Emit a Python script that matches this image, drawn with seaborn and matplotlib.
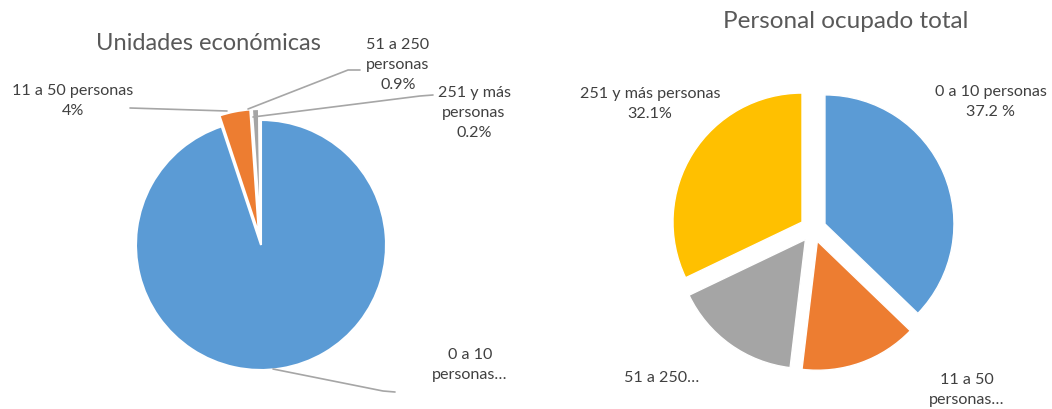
import matplotlib
matplotlib.use("Agg")
import matplotlib.pyplot as plt
import seaborn as sns

sns.set_style("white")
plt.rcParams["font.family"] = ["Lato", "DejaVu Sans"]

# Data
categorias = ["0 a 10 personas", "11 a 50 personas", "51 a 250 personas", "251 y más personas"]
unidades_pct = [94.9, 4.0, 0.9, 0.2]
personal_pct = [37.2, 14.7, 16.0, 32.1]
colores = ["#5B9BD5", "#ED7D31", "#A5A5A5", "#FFC000"]

W, H = 1052, 409
TXT = "#404040"
LINE = "#A6A6A6"

fig = plt.figure(figsize=(W / 100, H / 100), dpi=100)
ax = fig.add_axes([0, 0, 1, 1])

def py(y):
    # pixel row (from top) -> axis y
    return H - y

# ---- Left pie: Unidades económicas
ax.pie(unidades_pct, colors=colores, startangle=90, counterclock=False,
       center=(261, py(245)), radius=125, explode=[0, 11, 11, 11],
       wedgeprops=dict(edgecolor="white", linewidth=1.5))
ax.text(208, py(44), "Unidades económicas", ha="center", va="center",
        fontsize=17, color="#595959")

lab_kw = dict(ha="center", va="center", fontsize=11.6, color=TXT, linespacing=1.55)
ax.text(73, py(101), f"{categorias[1]}\n{unidades_pct[1]:.0f}%", **lab_kw)
ax.plot([130, 227], [py(108), py(111)], color=LINE, lw=1.2)

ax.text(398, py(65), "51 a 250\npersonas\n" + f"{unidades_pct[2]}%", **lab_kw)
ax.plot([360, 348, 248], [py(70), py(70), py(109)], color=LINE, lw=1.2)

ax.text(474, py(113), "251 y más\npersonas\n" + f"{unidades_pct[3]}%", **lab_kw)
ax.plot([433, 420, 253], [py(95), py(96), py(117)], color=LINE, lw=1.2)

ax.text(470, py(365), "0 a 10\npersonas…", **lab_kw)
ax.plot([395, 383, 273], [py(392), py(391), py(369)], color=LINE, lw=1.2)

# ---- Right pie: Personal ocupado total
ax.pie(personal_pct, colors=colores, startangle=90, counterclock=False,
       center=(813, py(229)), radius=129, explode=[13, 13, 13, 13],
       wedgeprops=dict(edgecolor="white", linewidth=1.0))
ax.text(846, py(21), "Personal ocupado total", ha="center", va="center",
        fontsize=17.5, color="#595959")

ax.text(991, py(102), f"{categorias[0]}\n{personal_pct[0]} %", **lab_kw)
ax.text(650, py(104), f"{categorias[3]}\n{personal_pct[3]}%", **lab_kw)
ax.text(662, py(378), "51 a 250…", **lab_kw)
ax.text(967, py(390), "11 a 50\npersonas…", **lab_kw)

ax.set_xlim(0, W)
ax.set_ylim(0, H)
ax.set_aspect("auto")
ax.axis("off")

fig.savefig("out.png", dpi=100, facecolor="white")
